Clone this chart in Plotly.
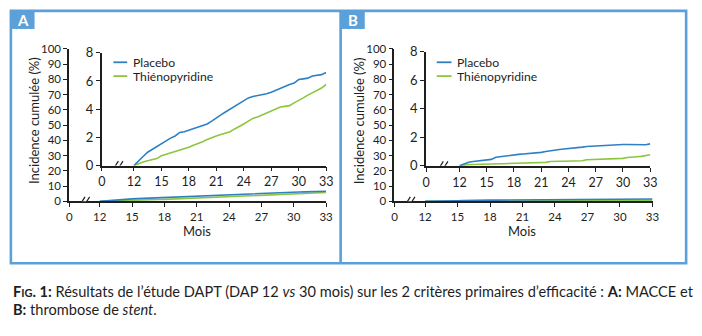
import plotly.graph_objects as go

# ---------------------------------------------------------------- data
months = [12, 12.5, 13, 13.5, 14, 14.5, 15, 15.5, 16, 16.5, 17, 17.5, 18, 18.5,
          19, 19.5, 20, 20.5, 21, 21.5, 22, 22.5, 23, 23.5, 24, 24.5, 25, 25.5,
          26, 26.5, 27, 27.5, 28, 28.5, 29, 29.5, 30, 30.5, 31, 31.5, 32, 32.5, 33]

# A : MACCE, cumulative incidence (%)
macce_placebo = [0, 0.35, 0.65, 0.95, 1.15, 1.4, 1.6, 1.8, 1.95, 2.1, 2.35, 2.4,
                 2.5, 2.6, 2.75, 2.85, 2.95, 3.15, 3.4, 3.6, 3.8, 4.0, 4.2, 4.4,
                 4.6, 4.8, 4.9, 4.95, 5.0, 5.1, 5.2, 5.35, 5.5, 5.6, 5.75, 5.85,
                 6.1, 6.15, 6.2, 6.35, 6.4, 6.45, 6.6]
macce_thieno = [0, 0.15, 0.25, 0.35, 0.45, 0.5, 0.7, 0.8, 0.85, 0.95, 1.05, 1.2,
                1.3, 1.45, 1.55, 1.7, 1.85, 2.0, 2.1, 2.2, 2.3, 2.4, 2.6, 2.75,
                2.95, 3.15, 3.35, 3.45, 3.6, 3.75, 3.9, 4.05, 4.15, 4.2, 4.25, 4.45,
                4.6, 4.8, 5.0, 5.15, 5.3, 5.5, 5.75]

# B : stent thrombosis, cumulative incidence (%)
st_placebo = [0, 0.15, 0.25, 0.3, 0.35, 0.4, 0.43, 0.45, 0.6, 0.65, 0.66, 0.7,
              0.78, 0.8, 0.83, 0.85, 0.87, 0.9, 0.94, 1.0, 1.06, 1.1, 1.15, 1.18,
              1.2, 1.24, 1.28, 1.31, 1.35, 1.38, 1.39, 1.4, 1.42, 1.44, 1.47, 1.5,
              1.5, 1.5, 1.49, 1.46, 1.45, 1.48, 1.54]
st_thieno = [0, 0.05, 0.08, 0.09, 0.1, 0.1, 0.1, 0.1, 0.13, 0.16, 0.18, 0.19,
             0.2, 0.2, 0.21, 0.21, 0.22, 0.22, 0.23, 0.24, 0.3, 0.33, 0.32, 0.32,
             0.32, 0.32, 0.33, 0.36, 0.42, 0.43, 0.43, 0.43, 0.43, 0.44, 0.46, 0.48,
             0.52, 0.58, 0.63, 0.64, 0.66, 0.72, 0.78]

series_names = ["Placebo", "Thiénopyridine"]
panel_labels = ["A", "B"]
outer_yticks = [0, 10, 20, 30, 40, 50, 60, 70, 80, 90, 100]
inset_yticks = [0, 2, 4, 6, 8]
month_ticks = [12, 15, 18, 21, 24, 27, 30, 33]
y_title = "Incidence cumulée (%)"
x_title = "Mois"

# ---------------------------------------------------------------- style
W, H = 702, 336
BLUE = "#2f80c3"
GREEN = "#8cc63f"
FRAME = "#5ba0d8"
INK = "#1e1e1e"
FONT = "Lato"


def px(x):
    return x / W


def py(y):
    return 1 - y / H


fig = go.Figure()

# pixel geometry of each panel
panels = [
    dict(outer=(67, 98, 328), inset=(100, 132.7, 328), inset_y=(165.5, 47),
         leg=(112, 126, 130), mid=197, data=(macce_placebo, macce_thieno)),
    dict(outer=(397, 428, 659), inset=(429, 463, 656.7), inset_y=(165.7, 46),
         leg=(440, 455, 459), mid=527, data=(st_placebo, st_thieno)),
]
OUTER_Y = (203, 43)

shapes = []
annotations = []


def axis_pair(n, xs, ys, yticks, yrange, xfont, yfont):
    """Build an x/y axis pair whose zero tick sits before a broken segment."""
    x0, x12, x33 = xs
    ppm = (x33 - x12) / 21.0
    v0 = 12 - (x12 - x0) / ppm
    common = dict(showline=True, linecolor=INK, linewidth=1.5,
                  ticks="outside", ticklen=4, tickwidth=1.2, tickcolor=INK,
                  showgrid=False, zeroline=False, fixedrange=True)
    xa = dict(domain=[px(x0), px(x33)], range=[v0 - 0.02, 33.02],
              tickvals=[v0] + month_ticks,
              ticktext=["0"] + [str(m) for m in month_ticks],
              tickfont=dict(family=FONT, size=xfont, color=INK),
              anchor="y" + ("" if n == 1 else str(n)), **common)
    ya = dict(domain=[py(ys[0]), py(ys[1])], range=yrange,
              tickvals=yticks, ticktext=[str(t) for t in yticks],
              tickfont=dict(family=FONT, size=yfont, color=INK),
              anchor="x" + ("" if n == 1 else str(n)), **common)
    return xa, ya, (v0 + 12) / 2


def axis_break(xref, yref, xmid):
    # "//" marks drawn across the x axis line
    shapes.append(dict(type="line", xref=xref, yref=yref, xsizemode="pixel",
                       ysizemode="pixel", xanchor=xmid, yanchor=0,
                       x0=-2.6, y0=-3.5, x1=2.6, y1=3.5,
                       line=dict(color="white", width=3.5)))
    for off in (-2.3, 2.3):
        shapes.append(dict(type="line", xref=xref, yref=yref, xsizemode="pixel",
                           ysizemode="pixel", xanchor=xmid, yanchor=0,
                           x0=off - 2.8, y0=-4.5, x1=off + 2.8, y1=4.5,
                           line=dict(color=INK, width=1.2)))


layout_axes = {}
n = 1
for i, p in enumerate(panels):
    placebo, thieno = p["data"]
    # outer plot (0-100 %)
    xa, ya, mid_o = axis_pair(n, p["outer"], OUTER_Y, outer_yticks, [0, 100], 11.5, 11.5)
    sfx_o = "" if n == 1 else str(n)
    layout_axes["xaxis" + sfx_o] = xa
    layout_axes["yaxis" + sfx_o] = ya
    for vals, col in ((thieno, GREEN), (placebo, BLUE)):
        fig.add_trace(go.Scatter(x=months, y=vals, mode="lines",
                                 line=dict(color=col, width=1.6),
                                 xaxis="x" + sfx_o, yaxis="y" + sfx_o,
                                 showlegend=False, hoverinfo="skip"))
    axis_break("x" + sfx_o, "y" + sfx_o, mid_o)
    n += 1
    # inset zoom (0-8 %)
    xa, ya, mid_i = axis_pair(n, p["inset"], p["inset_y"], inset_yticks, [0, 8], 12.5, 13)
    sfx_i = str(n)
    layout_axes["xaxis" + sfx_i] = xa
    layout_axes["yaxis" + sfx_i] = ya
    for vals, col, name in ((thieno, GREEN, series_names[1]),
                            (placebo, BLUE, series_names[0])):
        fig.add_trace(go.Scatter(x=months, y=vals, mode="lines", name=name,
                                 line=dict(color=col, width=1.6),
                                 xaxis="x" + sfx_i, yaxis="y" + sfx_i,
                                 showlegend=False, hoverinfo="skip"))
    axis_break("x" + sfx_i, "y" + sfx_i, mid_i)
    n += 1

    # legend
    lx0, lx1, tx = p["leg"]
    for k, (name, col) in enumerate(zip(series_names, (BLUE, GREEN))):
        yy = 57 + k * 14.5
        shapes.append(dict(type="line", xref="paper", yref="paper",
                           x0=px(lx0), x1=px(lx1), y0=py(yy), y1=py(yy),
                           line=dict(color=col, width=1.8)))
        annotations.append(dict(text=name, x=px(tx), y=py(yy), xref="paper",
                                yref="paper", xanchor="left", yanchor="middle",
                                showarrow=False, height=13,
                                font=dict(family=FONT, size=12.2, color=INK)))
    # axis titles
    annotations.append(dict(text=x_title, x=px(p["mid"]), y=py(234), xref="paper",
                            yref="paper", xanchor="center", yanchor="middle",
                            showarrow=False, height=13,
                            font=dict(family=FONT, size=13, color=INK)))
    annotations.append(dict(text=y_title, x=px(p["outer"][0] - 35), y=py(118),
                            xref="paper", yref="paper", textangle=-90,
                            xanchor="center", yanchor="middle", showarrow=False,
                            font=dict(family=FONT, size=13, color=INK)))

# frame, divider and letter tabs
shapes.append(dict(type="rect", xref="paper", yref="paper", x0=px(8), x1=px(693),
                   y0=py(268), y1=py(3), line=dict(color=FRAME, width=2.6)))
shapes.append(dict(type="line", xref="paper", yref="paper", x0=px(342.5), x1=px(342.5),
                   y0=py(268), y1=py(3), line=dict(color=FRAME, width=2.6)))
for (tx0, tx1), lab in zip(((8, 32), (342.5, 367)), panel_labels):
    shapes.append(dict(type="rect", xref="paper", yref="paper", x0=px(tx0), x1=px(tx1),
                       y0=py(22), y1=py(3), line=dict(width=0), fillcolor=FRAME))
    annotations.append(dict(text="<b>%s</b>" % lab, x=px((tx0 + tx1) / 2), y=py(12.5),
                            xref="paper", yref="paper", xanchor="center",
                            yanchor="middle", showarrow=False,
                            font=dict(family=FONT, size=15, color="white")))

# caption
cap1 = ("<b>F<span style='font-size:11px'>IG</span>. 1:</b> Résultats de l’étude DAPT "
        "(DAP 12 <i>vs</i> 30 mois) sur les 2 critères primaires d’efficacité : "
        "<b>A:</b> MACCE et")
cap2 = "<b>B:</b> thrombose de <i>stent</i>."
for txt, yy in ((cap1, 298), (cap2, 317)):
    annotations.append(dict(text=txt, x=px(8), y=py(yy), xref="paper", yref="paper",
                            xanchor="left", yanchor="middle", showarrow=False,
                            height=17,
                            font=dict(family=FONT, size=14.6, color=INK)))

fig.update_layout(width=W, height=H, margin=dict(l=0, r=0, t=0, b=0),
                  paper_bgcolor="white", plot_bgcolor="rgba(0,0,0,0)",
                  showlegend=False, shapes=shapes, annotations=annotations,
                  **layout_axes)

fig.write_html("out.html")
